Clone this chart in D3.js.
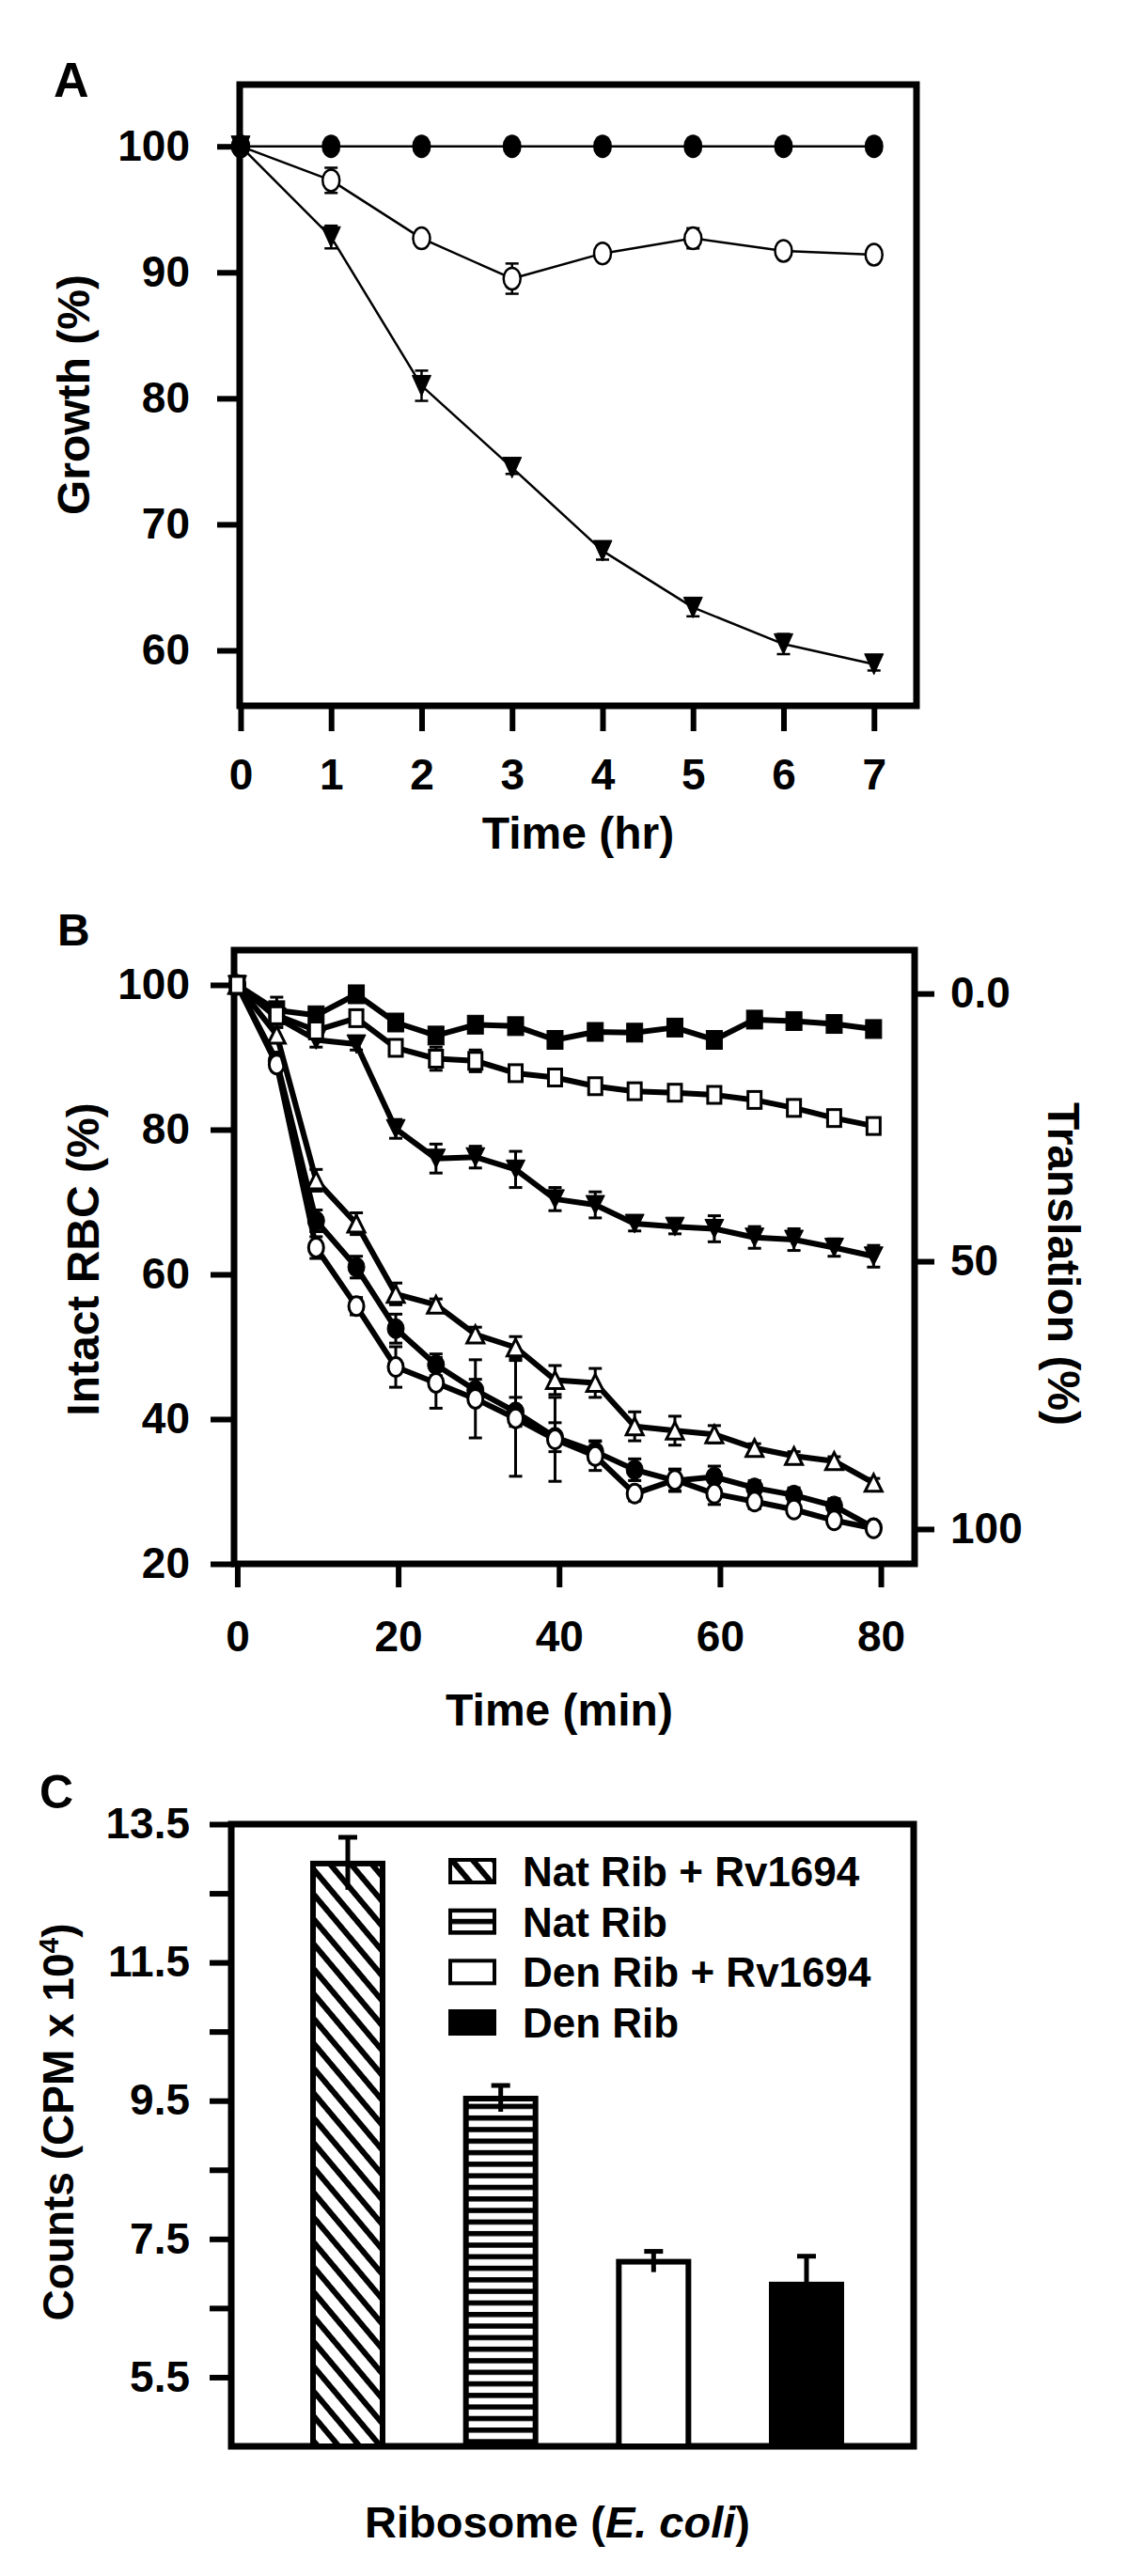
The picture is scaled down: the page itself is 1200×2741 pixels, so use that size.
<!DOCTYPE html>
<html><head><meta charset="utf-8">
<script src="https://cdn.jsdelivr.net/npm/d3@7"></script>
<style>
html,body{margin:0;padding:0;background:#fff;}
svg text{font-family:"Liberation Sans",Arial,sans-serif;font-weight:bold;fill:#000;}
</style></head><body>
<svg id="fig" width="1200" height="2741"></svg>
<script>
// ---------- Panel A data ----------
const timeHr = [0,1,2,3,4,5,6,7];
const growthFilledCircle = [100,100,100,100,100,100,100,100];
const growthOpenCircle = [100,97.3,92.7,89.5,91.5,92.7,91.7,91.4];
const growthOpenCircleErr = [0,1.0,0.4,1.2,0.4,0.8,0.4,0.5];
const growthTriangle = [100,92.8,81.0,74.5,67.9,63.4,60.5,58.9];
const growthTriangleErr = [0,0.9,1.2,0.5,0.7,0.7,0.8,0.5];
const aXTicks = [0,1,2,3,4,5,6,7];
const aYTicks = [60,70,80,90,100];

// ---------- Panel B data ----------
const timeMin = [0,4.9,9.8,14.8,19.7,24.7,29.6,34.6,39.5,44.5,49.4,54.4,59.3,64.3,69.2,74.2,79.1];
const rbcFilledSquare = [100,96.5,95.8,98.7,94.8,93.0,94.5,94.3,92.4,93.5,93.4,94.1,92.4,95.2,95.0,94.6,93.9];
const rbcFilledSquareErr = [0,1.8,0.8,0.6,0.5,0.8,0.5,0.5,0.8,0.5,0.5,0.5,0.6,0.5,0.5,0.5,0.5];
const rbcOpenSquare = [100,95.8,93.7,95.4,91.3,89.8,89.5,87.8,87.2,86.0,85.3,85.1,84.8,84.1,83.0,81.6,80.5];
const rbcOpenSquareErr = [0,1.0,0.8,0.5,0.6,1.6,1.5,0.5,0.6,0.5,0.5,0.5,0.5,0.5,0.6,0.6,0.5];
const rbcDownTriangle = [100,95.5,92.4,91.8,80.1,76.0,76.2,74.5,70.4,69.6,67.0,66.6,66.3,65.1,64.8,63.7,62.5];
const rbcDownTriangleErr = [0,1.0,1.0,0.8,1.3,2.0,1.5,2.5,1.6,1.8,1.0,1.0,1.8,1.5,1.5,1.2,1.5];
const rbcOpenTriangle = [100,93.1,73.0,67.0,57.3,55.8,51.7,49.9,45.4,45.0,39.0,38.4,37.9,36.0,34.9,34.2,31.2];
const rbcOpenTriangleErr = [0,1.0,1.5,1.5,1.5,0.8,1.0,1.5,2.0,2.0,2.0,2.0,1.2,0.6,0.6,0.6,0.6];
const rbcFilledCircle = [100,89.5,67.4,61.0,52.5,47.5,44.0,41.0,37.5,35.5,33.0,31.5,32.0,30.5,29.5,28.0,25.0];
const rbcFilledCircleErr = [0,0.8,1.5,1.5,2.0,1.5,1.5,2.0,2.0,1.5,1.5,1.5,1.5,1.0,1.0,1.0,0.8];
const rbcOpenCircle = [100,89.0,63.7,55.6,47.2,45.0,42.8,40.1,37.2,34.9,29.7,31.6,29.7,28.6,27.5,26.0,24.9];
const rbcOpenCircleErr = [0,0.8,1.5,1.2,2.8,3.5,5.4,8.0,5.8,2.0,1.0,1.5,1.5,1.0,0.8,0.8,0.8];
const bXTicks = [0,20,40,60,80];
const bYTicks = [20,40,60,80,100];
const bY2Ticks = [0,50,100];
const bY2TickLabels = ["0.0","50","100"];

// ---------- Panel C data ----------
const ribCategories = ["Nat Rib + Rv1694","Nat Rib","Den Rib + Rv1694","Den Rib"];
const ribCounts = [12.93,9.53,7.17,6.84];
const ribErr = [0.38,0.19,0.15,0.41];
const cYTicks = [5.5,6.5,7.5,8.5,9.5,10.5,11.5,12.5,13.5];
const cYTickLabels = ["5.5","","7.5","","9.5","","11.5","","13.5"];

// ---------- drawing ----------
const FONT = "Liberation Sans, Arial, sans-serif";
const svg = d3.select("#fig");
svg.append("rect").attr("width",1200).attr("height",2741).attr("fill","#fff");

const defs = svg.append("defs");
const pd = defs.append("pattern").attr("id","diag").attr("patternUnits","userSpaceOnUse")
  .attr("width",17).attr("height",17).attr("patternTransform","rotate(50)");
pd.append("rect").attr("width",17).attr("height",17).attr("fill","#fff");
pd.append("rect").attr("width",17).attr("height",6).attr("fill","#000");
const ph = defs.append("pattern").attr("id","horiz").attr("patternUnits","userSpaceOnUse")
  .attr("width",10).attr("height",12.3);
ph.append("rect").attr("width",10).attr("height",12.3).attr("fill","#fff");
ph.append("rect").attr("width",10).attr("height",5.5).attr("fill","#000");

function styleAxis(g, fs){
  g.attr("font-size",fs).attr("font-family",FONT);
  g.select(".domain").remove();
  g.selectAll(".tick line").attr("stroke","#000").attr("stroke-width",6);
  g.selectAll(".tick text").attr("fill","#000").attr("font-weight","bold");
}
function frame(x, y, sw){
  const [x0,x1] = x.range(), [y1,y0] = y.range();
  svg.append("rect").attr("x",Math.min(x0,x1)).attr("y",Math.min(y0,y1))
    .attr("width",Math.abs(x1-x0)).attr("height",Math.abs(y1-y0))
    .attr("fill","none").attr("stroke","#000").attr("stroke-width",sw);
}
function triPath(cx, cy, w, h, down){
  return down ? `M${cx-w},${cy-h}L${cx+w},${cy-h}L${cx},${cy+h}Z`
              : `M${cx-w},${cy+h}L${cx+w},${cy+h}L${cx},${cy-h}Z`;
}
function drawSeries(g, xs, ys, errs, x, y, opt){
  const pts = xs.map((d,i)=>({x:d,y:ys[i],e:errs?errs[i]:0}));
  g.append("path").datum(pts).attr("fill","none").attr("stroke","#000")
    .attr("stroke-width",opt.lw).attr("stroke-linejoin","round")
    .attr("d",d3.line().x(d=>x(d.x)).y(d=>y(d.y)));
  const eb = g.append("g").attr("stroke","#000").attr("stroke-width",opt.ew);
  pts.filter(d=>d.e>0).forEach(d=>{
    eb.append("line").attr("x1",x(d.x)).attr("x2",x(d.x)).attr("y1",y(d.y-d.e)).attr("y2",y(d.y+d.e));
    eb.append("line").attr("x1",x(d.x)-opt.cap).attr("x2",x(d.x)+opt.cap).attr("y1",y(d.y+d.e)).attr("y2",y(d.y+d.e));
    eb.append("line").attr("x1",x(d.x)-opt.cap).attr("x2",x(d.x)+opt.cap).attr("y1",y(d.y-d.e)).attr("y2",y(d.y-d.e));
  });
  const fill = opt.filled ? "#000" : "#fff";
  const m = g.append("g");
  pts.forEach(d=>{
    const cx = x(d.x), cy = y(d.y);
    let el;
    if (opt.shape==="circle"){
      el = m.append("ellipse").attr("cx",cx).attr("cy",cy).attr("rx",opt.w).attr("ry",opt.h);
    } else if (opt.shape==="square"){
      el = m.append("rect").attr("x",cx-opt.w).attr("y",cy-opt.h).attr("width",2*opt.w).attr("height",2*opt.h);
    } else {
      el = m.append("path").attr("d",triPath(cx,cy,opt.w,opt.h,opt.shape==="down"));
    }
    el.attr("fill",fill).attr("stroke","#000").attr("stroke-width",opt.ms);
  });
}
function label(txt, x, y, fs, anchor){
  return svg.append("text").attr("x",x).attr("y",y).attr("font-size",fs)
    .attr("text-anchor",anchor||"middle").text(txt);
}

// ===== Panel A =====
const aX = d3.scaleLinear().domain([-0.01,7.47]).range([255,975]);
const aY = d3.scaleLinear().domain([55.6,104.9]).range([751,90]);
frame(aX, aY, 7);
svg.append("g").attr("transform","translate(255,0)")
  .call(d3.axisLeft(aY).tickValues(aYTicks).tickSize(24).tickPadding(29).tickFormat(d3.format("d")))
  .call(g=>styleAxis(g,46));
svg.append("g").attr("transform","translate(0,751)")
  .call(d3.axisBottom(aX).tickValues(aXTicks).tickSize(27).tickPadding(29).tickFormat(d3.format("d")))
  .call(g=>styleAxis(g,46));
const gA = svg.append("g");
drawSeries(gA, timeHr, growthTriangle, growthTriangleErr, aX, aY, {shape:"down",filled:true,w:10,h:11,lw:2.5,ew:2.5,cap:7,ms:1});
drawSeries(gA, timeHr, growthOpenCircle, growthOpenCircleErr, aX, aY, {shape:"circle",filled:false,w:9,h:11.5,lw:2.5,ew:2.5,cap:7,ms:2.5});
drawSeries(gA, timeHr, growthFilledCircle, null, aX, aY, {shape:"circle",filled:true,w:10,h:12.5,lw:2.5,ew:2.5,cap:7,ms:0});
label("A", 57, 103, 52, "start");
label("Time (hr)", 615, 903, 48);
svg.append("text").attr("transform","translate(95,420) rotate(-90)").attr("font-size",48)
  .attr("text-anchor","middle").text("Growth (%)");

// ===== Panel B =====
const bX = d3.scaleLinear().domain([-0.4,84.2]).range([249,973]);
const bY = d3.scaleLinear().domain([20,104.8]).range([1664,1011]);
const bY2 = d3.scaleLinear().domain([-8.1,106.5]).range([1011,1664]);
frame(bX, bY, 7);
svg.append("g").attr("transform","translate(249,0)")
  .call(d3.axisLeft(bY).tickValues(bYTicks).tickSize(25).tickPadding(22).tickFormat(d3.format("d")))
  .call(g=>styleAxis(g,46));
svg.append("g").attr("transform","translate(973,0)")
  .call(d3.axisRight(bY2).tickValues(bY2Ticks).tickSize(21).tickPadding(17).tickFormat((d,i)=>bY2TickLabels[i]))
  .call(g=>styleAxis(g,46));
svg.append("g").attr("transform","translate(0,1664)")
  .call(d3.axisBottom(bX).tickValues(bXTicks).tickSize(25).tickPadding(35).tickFormat(d3.format("d")))
  .call(g=>styleAxis(g,46));
const gB = svg.append("g");
const bOpt = {lw:6,ew:3,cap:7};
drawSeries(gB, timeMin, rbcFilledCircle, rbcFilledCircleErr, bX, bY, Object.assign({shape:"circle",filled:true,w:9,h:10.5,ms:1},bOpt));
drawSeries(gB, timeMin, rbcOpenCircle, rbcOpenCircleErr, bX, bY, Object.assign({shape:"circle",filled:false,w:8,h:10,ms:3},bOpt));
drawSeries(gB, timeMin, rbcOpenTriangle, rbcOpenTriangleErr, bX, bY, Object.assign({shape:"up",filled:false,w:9,h:9,ms:3},bOpt));
drawSeries(gB, timeMin, rbcDownTriangle, rbcDownTriangleErr, bX, bY, Object.assign({shape:"down",filled:true,w:10,h:10,ms:1},bOpt));
drawSeries(gB, timeMin, rbcFilledSquare, rbcFilledSquareErr, bX, bY, Object.assign({shape:"square",filled:true,w:8.5,h:10,ms:1},bOpt));
drawSeries(gB, timeMin, rbcOpenSquare, rbcOpenSquareErr, bX, bY, Object.assign({shape:"square",filled:false,w:7,h:9,ms:3},bOpt));
label("B", 61, 1006, 48, "start");
label("Time (min)", 595, 1836, 48);
svg.append("text").attr("transform","translate(105,1340) rotate(-90)").attr("font-size",48)
  .attr("text-anchor","middle").text("Intact RBC (%)");
svg.append("text").attr("transform","translate(1115,1345) rotate(90)").attr("font-size",48)
  .attr("text-anchor","middle").text("Translation (%)");

// ===== Panel C =====
const cX = d3.scalePoint().domain(ribCategories).range([370,858]);
const cY = d3.scaleLinear().domain([4.5,13.5]).range([2603,1941]);
const cXFrame = d3.scaleLinear().range([246,972]);
frame(cXFrame, cY, 7);
svg.append("g").attr("transform","translate(246,0)")
  .call(d3.axisLeft(cY).tickValues(cYTicks).tickSize(23).tickPadding(21).tickFormat((d,i)=>cYTickLabels[i]))
  .call(g=>styleAxis(g,46));
const fills = ["url(#diag)","url(#horiz)","#fff","#000"];
const barW = 74;
const gC = svg.append("g");
ribCategories.forEach((c,i)=>{
  gC.append("rect").attr("x",cX(c)-barW/2).attr("y",cY(ribCounts[i]))
    .attr("width",barW).attr("height",cY(4.5)-cY(ribCounts[i]))
    .attr("fill",fills[i]).attr("stroke","#000").attr("stroke-width",6);
});
ribCategories.forEach((c,i)=>{
  const cx = cX(c);
  gC.append("line").attr("x1",cx).attr("x2",cx).attr("y1",cY(ribCounts[i]+ribErr[i])).attr("y2",cY(ribCounts[i]-ribErr[i]))
    .attr("stroke","#000").attr("stroke-width",5);
  gC.append("line").attr("x1",cx-10).attr("x2",cx+10).attr("y1",cY(ribCounts[i]+ribErr[i])).attr("y2",cY(ribCounts[i]+ribErr[i]))
    .attr("stroke","#000").attr("stroke-width",5);
});
// legend
const leg = svg.append("g");
const legRowY = d3.scalePoint().domain(ribCategories).range([1991,2152]);
ribCategories.forEach((c,i)=>{
  const yy = legRowY(c);
  leg.append("rect").attr("x",479).attr("y",yy-12).attr("width",47).attr("height",24)
    .attr("fill",fills[i]).attr("stroke","#000").attr("stroke-width",4);
  leg.append("text").attr("x",556).attr("y",yy+16).attr("font-size",44).text(c);
});
label("C", 42, 1924, 50, "start");
const rt = svg.append("text").attr("x",593).attr("y",2700).attr("font-size",47).attr("text-anchor","middle");
rt.append("tspan").text("Ribosome (");
rt.append("tspan").attr("font-style","italic").text("E. coli");
rt.append("tspan").text(")");
const ct = svg.append("text").attr("transform","translate(78,2258) rotate(-90)").attr("font-size",46).attr("text-anchor","middle");
ct.append("tspan").text("Counts (CPM x 10");
ct.append("tspan").attr("font-size",30).attr("dy",-16).text("4");
ct.append("tspan").attr("dy",16).text(")");
</script>
</body></html>
